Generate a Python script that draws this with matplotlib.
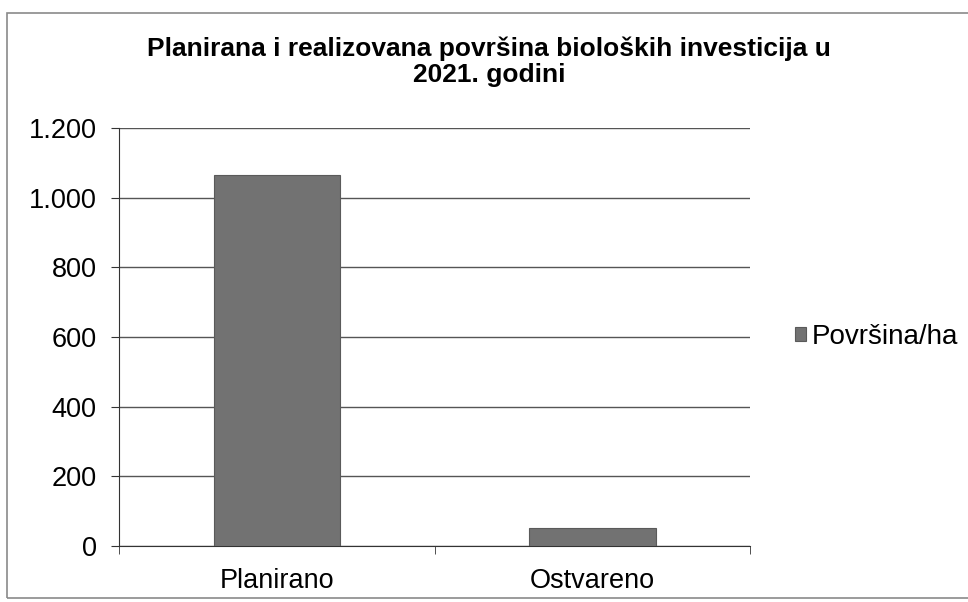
import matplotlib.pyplot as plt
from matplotlib.patches import Rectangle
from matplotlib.ticker import FuncFormatter, FixedLocator

plt.rcParams['font.family'] = ['Liberation Sans', 'DejaVu Sans']

categories = ["Planirano", "Ostvareno"]
values = [1065, 52]
series_name = "Površina/ha"
y_ticks = [0, 200, 400, 600, 800, 1000, 1200]

fig = plt.figure(figsize=(9.68, 6.02), dpi=100)
ax = fig.add_axes([0.123, 0.093, 0.652, 0.694])

# chart frame like the Excel export
fig.patches.append(Rectangle((0.007, 0.006), 1.1, 0.972, transform=fig.transFigure,
                             fill=False, edgecolor='#8a8a8a', linewidth=1.2))

x = range(len(categories))
ax.bar(x, values, width=0.4, color='#727272', edgecolor='#5a5a5a', linewidth=0.8,
       label=series_name, zorder=3)

ax.set_xlim(-0.5, len(categories) - 0.5)
ax.set_ylim(0, 1200)
ax.set_yticks(y_ticks)
ax.yaxis.set_major_formatter(FuncFormatter(lambda v, p: f"{int(v):,}".replace(",", ".")))
ax.yaxis.grid(True, color='#555555', linewidth=1.0, zorder=0)

ax.set_xticks(list(x))
ax.set_xticklabels(categories)
ax.xaxis.set_minor_locator(FixedLocator([-0.5, 0.5, 1.5]))
ax.tick_params(axis='x', which='major', length=0, pad=16, labelsize=19.5)
ax.tick_params(axis='x', which='minor', length=6, color='#333333')
ax.tick_params(axis='y', length=6, pad=10, labelsize=19.5, color='#333333')

for s in ['top', 'right']:
    ax.spines[s].set_visible(False)
ax.spines['left'].set_color('#333333')
ax.spines['bottom'].set_color('#333333')

fig.text(0.505, 0.897, "Planirana i realizovana površina bioloških investicija u\n2021. godini",
         ha='center', va='center', fontsize=19, fontweight='bold', linespacing=1.1)

ax.legend(loc='center left', bbox_to_anchor=(1.0, 0.5), frameon=False, fontsize=20,
          handlelength=0.4, handleheight=0.4, handletextpad=0.2, borderaxespad=1.2)

fig.savefig("out.png", dpi=100)
